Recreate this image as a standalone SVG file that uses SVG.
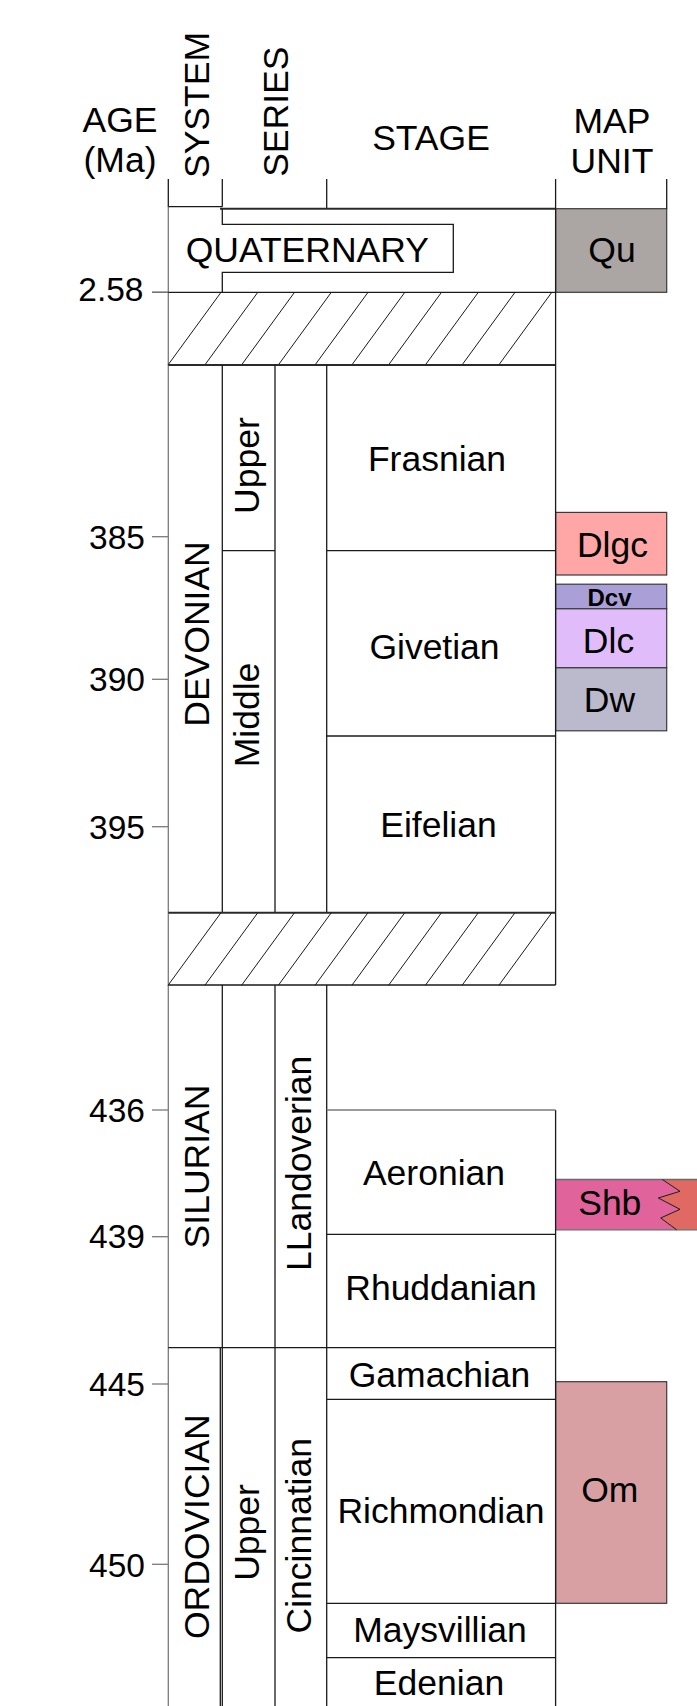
<svg xmlns="http://www.w3.org/2000/svg" width="697" height="1706" viewBox="0 0 697 1706">
<defs>
<style>
text{font-family:"Liberation Sans",Arial,sans-serif;fill:#000}
.t{font-size:35.5px}
.tc{font-size:35.5px;text-anchor:middle}
.age{font-size:33.5px;text-anchor:end}
.ln{stroke:#1a1a1a;stroke-width:1.3;fill:none}
.lnb{stroke:#2a2a2a;stroke-width:2;fill:none}
.gr{stroke:#7a7a7a;stroke-width:1.3;fill:none}
.ht{stroke:#1a1a1a;stroke-width:1;fill:none}
.box{stroke:#3a3a3a;stroke-width:1.2}
</style>
<g id="hatch">
<line class="ht" x1="168" y1="72.7" x2="221" y2="0"/>
<line class="ht" x1="204.8" y1="72.7" x2="257.8" y2="0"/>
<line class="ht" x1="241.5" y1="72.7" x2="294.5" y2="0"/>
<line class="ht" x1="278.3" y1="72.7" x2="331.3" y2="0"/>
<line class="ht" x1="315" y1="72.7" x2="368" y2="0"/>
<line class="ht" x1="351.8" y1="72.7" x2="404.8" y2="0"/>
<line class="ht" x1="388.5" y1="72.7" x2="441.5" y2="0"/>
<line class="ht" x1="425.3" y1="72.7" x2="478.3" y2="0"/>
<line class="ht" x1="462" y1="72.7" x2="515" y2="0"/>
<line class="ht" x1="498.8" y1="72.7" x2="551.8" y2="0"/>
</g>
</defs>
<rect width="697" height="1706" fill="#fff"/>

<g id="header">
<text class="tc" x="120" y="131.7">AGE</text>
<text class="tc" x="120" y="171.7">(Ma)</text>
<text class="tc" transform="translate(209,105) rotate(-90)">SYSTEM</text>
<text class="tc" transform="translate(288,111.7) rotate(-90)">SERIES</text>
<text class="tc" x="431" y="150">STAGE</text>
<text class="tc" x="612" y="133.3">MAP</text>
<text class="tc" x="612" y="173.3">UNIT</text>
</g>

<g id="map-units">
<g id="Qu"><rect class="box" x="555.6" y="208.7" width="111.1" height="83.6" fill="#aba6a3"/><text class="tc" x="612" y="261.7">Qu</text></g>
<g id="Dlgc"><rect class="box" x="555.6" y="512.4" width="111.1" height="62.6" fill="#ffa6a6"/><text class="tc" x="612.5" y="556.7">Dlgc</text></g>
<g id="Dcv"><rect class="box" x="555.6" y="584.2" width="111.1" height="24.6" fill="#ab9fd8"/><text x="609.5" y="605.7" style="font-size:24px;font-weight:bold;text-anchor:middle">Dcv</text></g>
<g id="Dlc"><rect class="box" x="555.6" y="608.8" width="111.1" height="59" fill="#e0bcfb"/><text class="tc" x="608.5" y="652.7">Dlc</text></g>
<g id="Dw"><rect class="box" x="555.6" y="667.8" width="111.1" height="63" fill="#babacc"/><text class="tc" x="609.5" y="712.3">Dw</text></g>
<g id="Shb">
<path d="M555.6,1179.5 H662.3 L680,1191.3 L658.3,1198 L680,1209.3 L660.7,1218 L676.7,1229.8 H555.6 Z" fill="#e0639b"/>
<path d="M662.3,1179.5 H697 V1229.8 H676.7 L660.7,1218 L680,1209.3 L658.3,1198 L680,1191.3 Z" fill="#e06a63"/>
<line x1="555.6" y1="1179.5" x2="697" y2="1179.5" stroke="#6a6a6a" stroke-width="1.3"/>
<line x1="555.6" y1="1229.8" x2="697" y2="1229.8" stroke="#6a6a6a" stroke-width="1.3"/>
<polyline class="ht" points="662.3,1179.5 680,1191.3 658.3,1198 680,1209.3 660.7,1218 676.7,1229.8"/>
<text class="tc" x="609.8" y="1215">Shb</text>
</g>
<g id="Om"><rect class="box" x="555.6" y="1381.7" width="111.1" height="221.6" fill="#d9a0a4"/><text class="tc" x="609.8" y="1501.7">Om</text></g>
</g>

<g id="connectors">
<!-- header verticals -->
<line class="ln" x1="168.3" y1="179" x2="168.3" y2="206.7"/>
<line class="ln" x1="222.3" y1="179" x2="222.3" y2="206.7"/>
<line class="ln" x1="326.7" y1="179" x2="326.7" y2="208.7"/>
<line class="ln" x1="555.6" y1="179" x2="555.6" y2="208.7"/>
<line class="ln" x1="666.7" y1="179" x2="666.7" y2="208.7"/>
<!-- left border -->
<line class="gr" x1="168.3" y1="206" x2="168.3" y2="1706"/>
<!-- top lines -->
<line class="ln" x1="168.3" y1="206.7" x2="222.3" y2="206.7"/>
<line class="lnb" x1="220" y1="208.7" x2="555.6" y2="208.7"/>
<!-- quaternary outline -->
<polyline class="ln" points="222.3,208.7 222.3,224.3 453.3,224.3 453.3,272.3 222.3,272.3 222.3,292.3"/>
<line class="ln" x1="555.6" y1="208.7" x2="555.6" y2="365"/>
<!-- 2.58 line -->
<line class="ln" x1="152" y1="292.3" x2="555.6" y2="292.3"/>
<line class="gr" x1="152" y1="292.3" x2="168.3" y2="292.3"/>
<!-- hatch band 1 -->
<use href="#hatch" transform="translate(0,292.3)"/>
<line class="lnb" x1="168.3" y1="365" x2="555.6" y2="365"/>
<!-- devonian columns -->
<line class="ln" x1="222.3" y1="365" x2="222.3" y2="912.7"/>
<line class="ln" x1="275" y1="365" x2="275" y2="912.7"/>
<line class="ln" x1="326.7" y1="365" x2="326.7" y2="912.7"/>
<line class="ln" x1="555.6" y1="365" x2="555.6" y2="985"/>
<line class="ln" x1="222.3" y1="550.7" x2="275" y2="550.7"/>
<line class="ln" x1="326.7" y1="550.7" x2="555.6" y2="550.7"/>
<line class="ln" x1="326.7" y1="736" x2="555.6" y2="736"/>
<!-- hatch band 2 -->
<line class="lnb" x1="168.3" y1="912.7" x2="555.6" y2="912.7"/>
<use href="#hatch" transform="translate(0,912.7)"/>
<line class="ln" x1="168.3" y1="985" x2="555.6" y2="985"/>
<!-- silurian / ordovician columns -->
<line class="ln" x1="222.3" y1="985" x2="222.3" y2="1706"/>
<line class="ln" x1="220.3" y1="1347.7" x2="220.3" y2="1706"/>
<line class="ln" x1="275" y1="985" x2="275" y2="1706"/>
<line class="ln" x1="326.7" y1="985" x2="326.7" y2="1706"/>
<line class="ln" x1="555.6" y1="1110" x2="555.6" y2="1706"/>
<line class="gr" x1="326.7" y1="1110" x2="555.6" y2="1110"/>
<line class="ln" x1="326.7" y1="1234.3" x2="555.6" y2="1234.3"/>
<line class="ln" x1="168.3" y1="1347.7" x2="555.6" y2="1347.7"/>
<line class="ln" x1="326.7" y1="1399.3" x2="555.6" y2="1399.3"/>
<line class="ln" x1="326.7" y1="1603.3" x2="555.6" y2="1603.3"/>
<line class="ln" x1="326.7" y1="1657.7" x2="555.6" y2="1657.7"/>
<!-- ticks -->
<line class="gr" x1="152" y1="536.7" x2="168.3" y2="536.7"/>
<line class="gr" x1="152" y1="679.3" x2="168.3" y2="679.3"/>
<line class="gr" x1="152" y1="826.7" x2="168.3" y2="826.7"/>
<line class="gr" x1="152" y1="1110" x2="168.3" y2="1110"/>
<line class="gr" x1="152" y1="1236.7" x2="168.3" y2="1236.7"/>
<line class="gr" x1="152" y1="1384" x2="168.3" y2="1384"/>
<line class="gr" x1="152" y1="1564.3" x2="168.3" y2="1564.3"/>
</g>

<g id="ages">
<text class="age" x="143.5" y="301">2.58</text>
<text class="age" x="145" y="548.5">385</text>
<text class="age" x="145" y="691">390</text>
<text class="age" x="145" y="838.5">395</text>
<text class="age" x="145" y="1121.7">436</text>
<text class="age" x="145" y="1248.3">439</text>
<text class="age" x="145" y="1396">445</text>
<text class="age" x="145" y="1576.5">450</text>
</g>

<g id="systems">
<g id="quaternary"><text class="tc" x="307.3" y="261.7">QUATERNARY</text></g>
<g id="devonian"><text class="tc" transform="translate(209,634) rotate(-90)">DEVONIAN</text></g>
<g id="silurian"><text class="tc" transform="translate(209,1166.5) rotate(-90)">SILURIAN</text></g>
<g id="ordovician"><text class="tc" transform="translate(209,1526.7) rotate(-90)">ORDOVICIAN</text></g>
</g>

<g id="series">
<g id="dev-upper"><text class="tc" transform="translate(258.7,465.6) rotate(-90)">Upper</text></g>
<g id="dev-middle"><text class="tc" transform="translate(258.7,715) rotate(-90)">Middle</text></g>
<g id="llandoverian"><text class="tc" transform="translate(311,1163.3) rotate(-90)">LLandoverian</text></g>
<g id="ord-upper"><text class="tc" transform="translate(258.7,1532.5) rotate(-90)">Upper</text></g>
<g id="cincinnatian"><text class="tc" transform="translate(311,1535.8) rotate(-90)">Cincinnatian</text></g>
</g>

<g id="stages">
<g id="frasnian"><text class="tc" x="437" y="470.7">Frasnian</text></g>
<g id="givetian"><text class="tc" x="434.5" y="659">Givetian</text></g>
<g id="eifelian"><text class="tc" x="438.5" y="837.3">Eifelian</text></g>
<g id="aeronian"><text class="tc" x="434" y="1185">Aeronian</text></g>
<g id="rhuddanian"><text class="tc" x="441" y="1300">Rhuddanian</text></g>
<g id="gamachian"><text class="tc" x="439.5" y="1386.7">Gamachian</text></g>
<g id="richmondian"><text class="tc" x="441" y="1523.3">Richmondian</text></g>
<g id="maysvillian"><text class="tc" x="440" y="1641.7">Maysvillian</text></g>
<g id="edenian"><text class="tc" x="439" y="1695">Edenian</text></g>
</g>
</svg>
